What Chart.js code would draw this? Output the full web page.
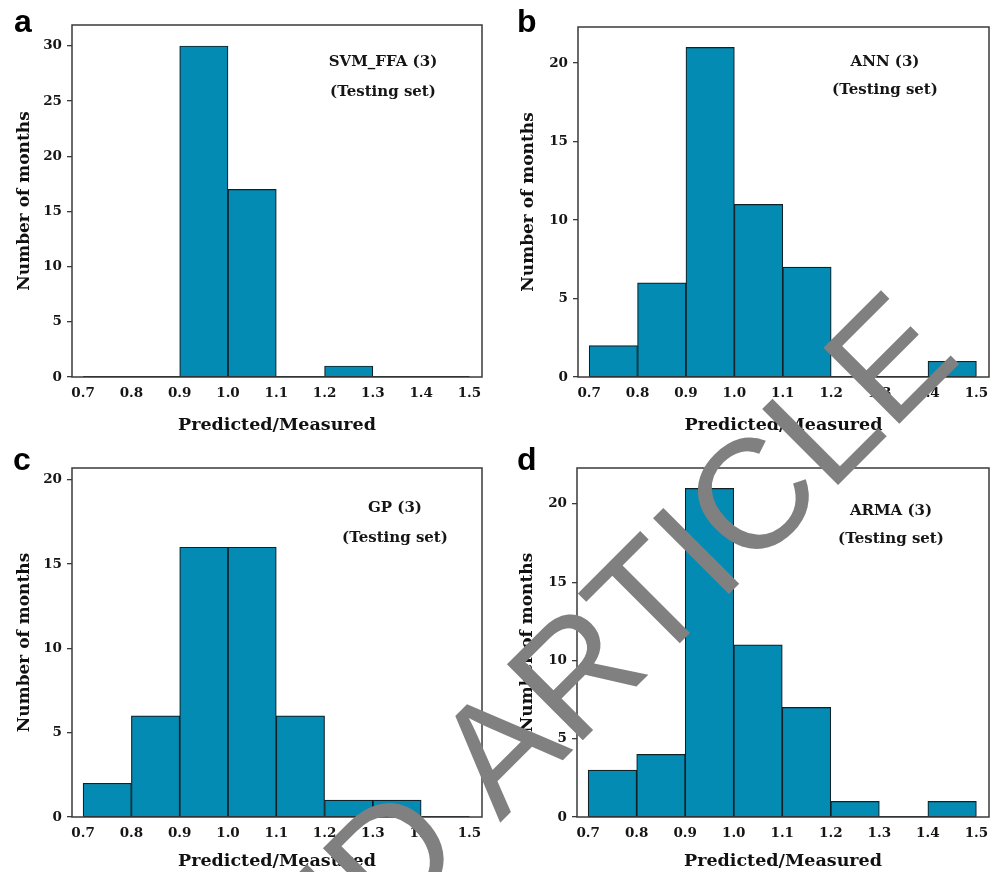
<!DOCTYPE html>
<html>
<head>
<meta charset="utf-8">
<script src="https://cdn.jsdelivr.net/npm/chart.js@4.4.1/dist/chart.umd.min.js"></script>
<style>
  html, body { margin: 0; padding: 0; background: #fff; }
  #page { position: relative; width: 998px; height: 872px; overflow: hidden; }
  #page canvas { position: absolute; }
  #mark { left: 0; top: 0; pointer-events: none; }
</style>
</head>
<body>
<div id="page">
  <canvas id="chartA" width="499" height="436" style="left:0;top:0"></canvas>
  <canvas id="chartB" width="499" height="436" style="left:499px;top:0"></canvas>
  <canvas id="chartC" width="499" height="436" style="left:0;top:436px"></canvas>
  <canvas id="chartD" width="499" height="436" style="left:499px;top:436px"></canvas>
  <canvas id="mark" width="998" height="872"></canvas>
</div>
<script>
// histogram bins (left edges), width 0.1
const binStarts = [0.7, 0.8, 0.9, 1.0, 1.1, 1.2, 1.3, 1.4];
const binWidth = 0.1;
const xTicks = [0.7, 0.8, 0.9, 1.0, 1.1, 1.2, 1.3, 1.4, 1.5];

// number of months per bin
const svmCounts  = [0, 0, 30, 17, 0, 1, 0, 0];
const annCounts  = [2, 6, 21, 11, 7, 0, 0, 1];
const gpCounts   = [2, 6, 16, 16, 6, 1, 1, 0];
const armaCounts = [3, 4, 21, 11, 7, 1, 0, 1];

const yTicksA = [0, 5, 10, 15, 20, 25, 30];
const yTicks20 = [0, 5, 10, 15, 20];

const modelNames = ['SVM_FFA (3)', 'ANN (3)', 'GP (3)', 'ARMA (3)'];
const setName = '(Testing set)';
const panelLetters = ['a', 'b', 'c', 'd'];

const barFill = '#038bb4';
const barEdge = '#102128';
const axisCol = '#3a3a3a';

Chart.defaults.font.family = '"DejaVu Serif", serif';
Chart.defaults.color = '#151515';

// layout of each panel inside its 499x436 canvas
const panels = [
  { id: 'chartA', counts: svmCounts,  yTicks: yTicksA,  yMax: 31.9, pad: { top: 25, right: 17 }, yW: 72, xH: 59,
    yTitlePad: 14, xTitlePad: 9, letter: [14, 32], note: [383, 62, 92] },
  { id: 'chartB', counts: annCounts,  yTicks: yTicks20, yMax: 22.3, pad: { top: 27, right: 9 },  yW: 79, xH: 59,
    yTitlePad: 19, xTitlePad: 8, letter: [18, 32], note: [386, 62, 90] },
  { id: 'chartC', counts: gpCounts,   yTicks: yTicks20, yMax: 20.7, pad: { top: 32, right: 17 }, yW: 72, xH: 55,
    yTitlePad: 14, xTitlePad: 4, letter: [13, 34], note: [395, 72, 102] },
  { id: 'chartD', counts: armaCounts, yTicks: yTicks20, yMax: 22.3, pad: { top: 32, right: 9 },  yW: 78, xH: 55,
    yTitlePad: 18, xTitlePad: 3, letter: [18, 34], note: [392, 75, 103] }
];

const decoPlugin = {
  id: 'deco',
  afterDatasetsDraw(chart) {
    const a = chart.chartArea;
    const ctx = chart.ctx;
    ctx.save();
    ctx.strokeStyle = axisCol;
    ctx.lineWidth = 1.5;
    ctx.strokeRect(a.left, a.top, a.right - a.left, a.bottom - a.top);
    ctx.restore();
  },
  afterDraw(chart, args, opts) {
    const ctx = chart.ctx;
    ctx.save();
    ctx.fillStyle = '#000';
    ctx.font = 'bold 32px "Liberation Sans", Arial, sans-serif';
    ctx.textAlign = 'left';
    ctx.textBaseline = 'alphabetic';
    ctx.fillText(opts.letter, opts.letterPos[0], opts.letterPos[1]);
    ctx.fillStyle = '#151515';
    ctx.font = 'bold 15px "DejaVu Serif", serif';
    ctx.textAlign = 'center';
    ctx.textBaseline = 'middle';
    ctx.fillText(opts.model, opts.note[0], opts.note[1]);
    ctx.fillText(setName, opts.note[0], opts.note[2]);
    ctx.restore();
  }
};

panels.forEach((p, i) => {
  const bars = binStarts.map((b, k) => ({ x: b + binWidth / 2, y: p.counts[k] }));
  new Chart(document.getElementById(p.id), {
    type: 'bar',
    data: {
      datasets: [{
        type: 'line',
        data: [{ x: xTicks[0], y: 0 }, { x: xTicks[xTicks.length - 1], y: 0 }],
        borderColor: barEdge,
        borderWidth: 2,
        pointRadius: 0
      }, {
        data: bars,
        backgroundColor: barFill,
        borderColor: barEdge,
        borderWidth: 1.2,
        barPercentage: 1,
        categoryPercentage: 1
      }]
    },
    options: {
      responsive: false,
      animation: false,
      layout: { padding: { top: p.pad.top, right: p.pad.right, bottom: 0, left: 0 } },
      plugins: {
        legend: { display: false },
        tooltip: { enabled: false },
        deco: { letter: panelLetters[i], letterPos: p.letter, model: modelNames[i], note: p.note }
      },
      scales: {
        x: {
          type: 'linear',
          offset: false,
          min: 0.677,
          max: 1.526,
          afterFit: s => { s.height = p.xH; },
          afterBuildTicks: s => { s.ticks = xTicks.map(v => ({ value: v })); },
          grid: { display: false, offset: false, drawTicks: true, tickLength: 8 },
          border: { display: false },
          ticks: {
            padding: 0,
            autoSkip: false,
            maxRotation: 0,
            font: { size: 13.5, weight: 'bold' },
            callback: v => Number(v).toFixed(1)
          },
          title: {
            display: true,
            text: 'Predicted/Measured',
            color: '#111',
            font: { size: 17.5, weight: 'bold' },
            padding: { top: p.xTitlePad, bottom: 0 }
          }
        },
        y: {
          min: 0,
          max: p.yMax,
          afterFit: s => { s.width = p.yW; },
          afterBuildTicks: s => { s.ticks = p.yTicks.map(v => ({ value: v })); },
          grid: { drawOnChartArea: false, drawTicks: true, tickLength: 5, color: axisCol, lineWidth: 1.3 },
          border: { display: false },
          ticks: { padding: 5, font: { size: 13.5, weight: 'bold' } },
          title: {
            display: true,
            text: 'Number of months',
            color: '#111',
            font: { size: 17, weight: 'bold' },
            padding: { top: p.yTitlePad, bottom: 0 }
          }
        }
      }
    },
    plugins: [decoPlugin]
  });
});

// diagonal watermark across the figure, anchored on the "I" of ARTICLE
const mk = document.getElementById('mark').getContext('2d');
const wmText = 'RETRACTED ARTICLE';
mk.font = '156px "Liberation Sans", Arial, sans-serif';
const before = mk.measureText('RETRACTED ART').width;
const iWidth = mk.measureText('I').width;
mk.save();
mk.translate(734, 589);
mk.rotate(-Math.PI / 4);
mk.fillStyle = '#808080';
mk.textBaseline = 'alphabetic';
mk.fillText(wmText, -(before + iWidth / 2), 0);
mk.restore();
</script>
</body>
</html>
